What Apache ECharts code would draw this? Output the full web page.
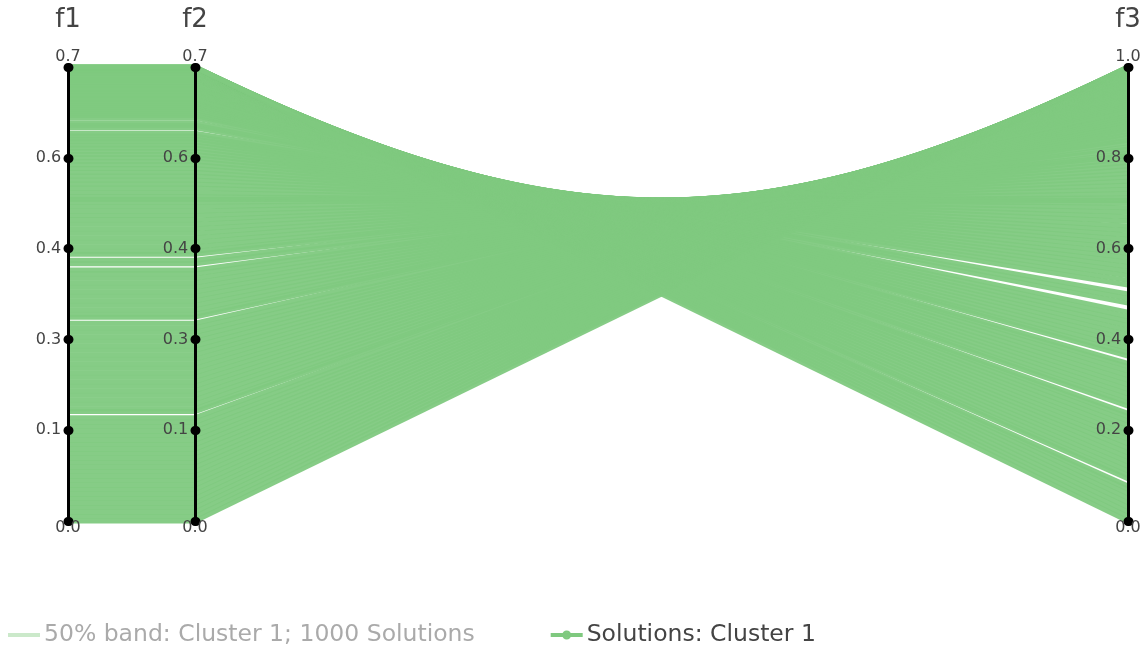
<!DOCTYPE html>
<html>
<head>
<meta charset="utf-8">
<title>Solutions: Cluster 1</title>
<script src="https://cdn.jsdelivr.net/npm/echarts@6/dist/echarts.min.js"></script>
<style>
  html, body { margin: 0; padding: 0; background: #fff; }
  #chart { width: 1146px; height: 648px; }
</style>
</head>
<body>
<div id="chart"></div>
<script>
// one entry per drawn line (f1 and f2 agree on every line)
const f1 = [
  0.000, 0.007, 0.014, 0.021, 0.028, 0.035, 0.042, 0.049, 0.056, 0.063,
  0.070, 0.077, 0.084, 0.091, 0.098, 0.105, 0.112, 0.119, 0.126, 0.133,
  0.140, 0.147, 0.154, 0.161, 0.1705, 0.175, 0.182, 0.189, 0.196, 0.203,
  0.210, 0.217, 0.224, 0.231, 0.238, 0.245, 0.252, 0.259, 0.266, 0.273,
  0.280, 0.287, 0.294, 0.301, 0.308, 0.3175, 0.322, 0.329, 0.336, 0.343,
  0.350, 0.357, 0.364, 0.371, 0.378, 0.385, 0.391, 0.4005, 0.406, 0.4155,
  0.420, 0.427, 0.434, 0.441, 0.448, 0.455, 0.462, 0.469, 0.476, 0.483,
  0.490, 0.497, 0.501,
  0.5050, 0.5118, 0.5185, 0.5249, 0.5312, 0.5374, 0.5433, 0.5491, 0.5548, 0.5603,
  0.5657, 0.5709, 0.5760, 0.5810, 0.5858, 0.5906, 0.5951, 0.5996, 0.6040,
  0.6124, 0.6164, 0.6203, 0.6279, 0.6315, 0.6350, 0.6384, 0.6417, 0.6449,
  0.6481, 0.6511, 0.6541, 0.6569, 0.6589, 0.6632, 0.6650, 0.6675, 0.6699, 0.6723,
  0.6745, 0.6767, 0.6788, 0.6808, 0.6828, 0.6841, 0.6870, 0.6882, 0.6898, 0.6913,
  0.6928, 0.6942, 0.6956, 0.6968, 0.6980, 0.6991, 0.7001, 0.7011, 0.7020, 0.7028,
  0.7036, 0.7040, 0.7050, 0.7054, 0.7058, 0.7062, 0.7065, 0.7068, 0.7070, 0.7071,
  0.7071
]

const f2 = [
  0.000, 0.007, 0.014, 0.021, 0.028, 0.035, 0.042, 0.049, 0.056, 0.063,
  0.070, 0.077, 0.084, 0.091, 0.098, 0.105, 0.112, 0.119, 0.126, 0.133,
  0.140, 0.147, 0.154, 0.161, 0.1705, 0.175, 0.182, 0.189, 0.196, 0.203,
  0.210, 0.217, 0.224, 0.231, 0.238, 0.245, 0.252, 0.259, 0.266, 0.273,
  0.280, 0.287, 0.294, 0.301, 0.308, 0.3175, 0.322, 0.329, 0.336, 0.343,
  0.350, 0.357, 0.364, 0.371, 0.378, 0.385, 0.391, 0.4005, 0.406, 0.4155,
  0.420, 0.427, 0.434, 0.441, 0.448, 0.455, 0.462, 0.469, 0.476, 0.483,
  0.490, 0.497, 0.501,
  0.5050, 0.5118, 0.5185, 0.5249, 0.5312, 0.5374, 0.5433, 0.5491, 0.5548, 0.5603,
  0.5657, 0.5709, 0.5760, 0.5810, 0.5858, 0.5906, 0.5951, 0.5996, 0.6040,
  0.6124, 0.6164, 0.6203, 0.6279, 0.6315, 0.6350, 0.6384, 0.6417, 0.6449,
  0.6481, 0.6511, 0.6541, 0.6569, 0.6589, 0.6632, 0.6650, 0.6675, 0.6699, 0.6723,
  0.6745, 0.6767, 0.6788, 0.6808, 0.6828, 0.6841, 0.6870, 0.6882, 0.6898, 0.6913,
  0.6928, 0.6942, 0.6956, 0.6968, 0.6980, 0.6991, 0.7001, 0.7011, 0.7020, 0.7028,
  0.7036, 0.7040, 0.7050, 0.7054, 0.7058, 0.7062, 0.7065, 0.7068, 0.7070, 0.7071,
  0.7071
]

const f3 = [
  1.000, 1.000, 0.9998, 0.9996, 0.9992, 0.9988, 0.9982, 0.9976, 0.9969, 0.9960,
  0.9951, 0.9941, 0.9929, 0.9917, 0.9904, 0.9889, 0.9874, 0.9857, 0.9840, 0.9822,
  0.9802, 0.9781, 0.9760, 0.9737, 0.9705, 0.9689, 0.9663, 0.9636, 0.9608, 0.9579,
  0.9549, 0.9518, 0.9485, 0.9451, 0.9417, 0.9381, 0.9343, 0.9305, 0.9265, 0.9225,
  0.9183, 0.9139, 0.9095, 0.9049, 0.9002, 0.8935, 0.8903, 0.8852, 0.8799, 0.8745,
  0.8689, 0.8632, 0.8573, 0.8513, 0.8451, 0.8388, 0.8332, 0.8241, 0.8187, 0.8091,
  0.8045, 0.7971, 0.7895, 0.7817, 0.7737, 0.7655, 0.7570, 0.7484, 0.7395, 0.7304,
  0.7210, 0.7113, 0.7057,
  0.70, 0.69, 0.68, 0.67, 0.66, 0.65, 0.64, 0.63, 0.62, 0.61,
  0.60, 0.59, 0.58, 0.57, 0.56, 0.55, 0.54, 0.53, 0.52,
  0.50, 0.49, 0.48, 0.46, 0.45, 0.44, 0.43, 0.42, 0.41,
  0.40, 0.39, 0.38, 0.37, 0.363, 0.347, 0.34, 0.33, 0.32, 0.31,
  0.30, 0.29, 0.28, 0.27, 0.26, 0.253, 0.237, 0.23, 0.22, 0.21,
  0.20, 0.19, 0.18, 0.17, 0.16, 0.15, 0.14, 0.13, 0.12, 0.11,
  0.10, 0.093, 0.077, 0.07, 0.06, 0.05, 0.04, 0.03, 0.02, 0.01,
  0.00
]

// axis ranges and the tick labels printed on them
const f12Max = 0.7071
const f12Interval = 0.14142
const f12TickLabels = ['0.0', '0.1', '0.3', '0.4', '0.6', '0.7']
const f3Max = 1
const f3Interval = 0.2
const f3TickLabels = ['0.0', '0.2', '0.4', '0.6', '0.8', '1.0']

const bandName = '50% band: Cluster 1; 1000 Solutions'
const solutionsName = 'Solutions: Cluster 1'

const green = '#7fc97f'
const textColor = '#444'
const fontFamily = 'DejaVu Sans'

class EChartsHelper {

  #divId = ''

  /** @type { echarts.ECharts } */
  #echarts = null

  get echarts () {
    return this.#echarts
  }

  constructor (divId) {
    this.#divId = divId
  }

  mount () {
    const elem = document.getElementById(this.#divId)
    this.#echarts = echarts.init(elem, null, { renderer: 'canvas' })
    return this
  }

  setOptions (options) {
    this.#echarts.setOption(options)
    return this
  }

}

// plotly-style tick labels: extremes sit centred above / below the axis ends
function tickLabel (labels, interval) {
  const labelFont = { fontFamily, fontSize: 16, color: textColor, lineHeight: 16 }
  return {
    show: true,
    margin: 0,
    align: 'center',
    verticalAlign: 'middle',
    formatter: v => {
      const i = Math.round(v / interval)
      const text = labels[i]
      if (i === 0) return `{low|${text}}`
      if (i === labels.length - 1) return `{high|${text}}`
      return `{mid|${text}}`
    },
    rich: {
      mid: { ...labelFont, padding: [0, 39, 0, 0] },
      high: { ...labelFont, padding: [0, 0, 21, 0] },
      low: { ...labelFont, padding: [14, 0, 0, 0] }
    }
  }
}

function shownAxis (parallelIndex, dim, name, max, interval, labels) {
  return {
    parallelIndex,
    dim,
    name,
    type: 'value',
    min: 0,
    max,
    interval,
    z: 10,
    nameLocation: 'end',
    nameGap: 34,
    nameTextStyle: { fontFamily, fontSize: 26, color: textColor, align: 'center', verticalAlign: 'bottom' },
    axisLine: { show: true, lineStyle: { color: '#000', width: 3 } },
    axisTick: { show: true, length: 1, lineStyle: { color: '#000', width: 9, cap: 'round' } },
    axisLabel: tickLabel(labels, interval),
    splitLine: { show: false }
  }
}

// f2 seen from the right-hand panel: same scale, nothing drawn
// (parallel layout forces labels on, so they are blanked instead)
function hiddenAxis (parallelIndex, dim, max) {
  return {
    parallelIndex,
    dim,
    name: '',
    type: 'value',
    min: 0,
    max,
    axisLine: { show: false },
    axisTick: { show: false },
    axisLabel: { show: false, formatter: () => '', color: 'rgba(0,0,0,0)' },
    splitLine: { show: false }
  }
}

const lineStyle = { color: green, width: 5, opacity: 0.95 }

const options = {
  backgroundColor: '#fff',
  animation: false,
  textStyle: { fontFamily },
  // two panels share the f2 axis so the axes can sit unevenly spaced
  parallel: [
    { left: 68, right: 951, top: 67, bottom: 127 },
    { left: 195, right: 18, top: 67, bottom: 127 }
  ],
  parallelAxis: [
    shownAxis(0, 0, 'f1', f12Max, f12Interval, f12TickLabels),
    shownAxis(0, 1, 'f2', f12Max, f12Interval, f12TickLabels),
    hiddenAxis(1, 0, f12Max),
    shownAxis(1, 1, 'f3', f3Max, f3Interval, f3TickLabels)
  ],
  legend: {
    left: 3,
    top: 618,
    itemWidth: 30,
    itemHeight: 7,
    itemGap: 76,
    selectedMode: false,
    textStyle: { fontFamily, fontSize: 23.5, color: textColor },
    data: [
      {
        name: bandName,
        icon: 'path://M0,0M30,7M0,2.5H30V4.5H0Z',
        itemStyle: { color: '#cbe9ca' },
        textStyle: { color: '#aaa' }
      },
      {
        name: solutionsName,
        icon: 'path://M0,2.5H30V4.5H0Z M11.5,3.5a3.5,3.5 0 1,0 7,0a3.5,3.5 0 1,0 -7,0Z',
        itemStyle: { color: '#8fd08e' }
      }
    ]
  },
  series: [
    {
      type: 'parallel',
      name: bandName,
      parallelIndex: 1,
      color: '#cbe9ca',
      silent: true,
      data: []
    },
    {
      type: 'parallel',
      name: solutionsName,
      parallelIndex: 0,
      color: green,
      silent: true,
      lineStyle,
      data: f1.map((v, i) => [v, f2[i]])
    },
    {
      type: 'parallel',
      name: solutionsName,
      parallelIndex: 1,
      color: green,
      silent: true,
      lineStyle,
      data: f2.map((v, i) => [v, f3[i]])
    }
  ]
}

new EChartsHelper('chart').mount().setOptions(options)
</script>
</body>
</html>
